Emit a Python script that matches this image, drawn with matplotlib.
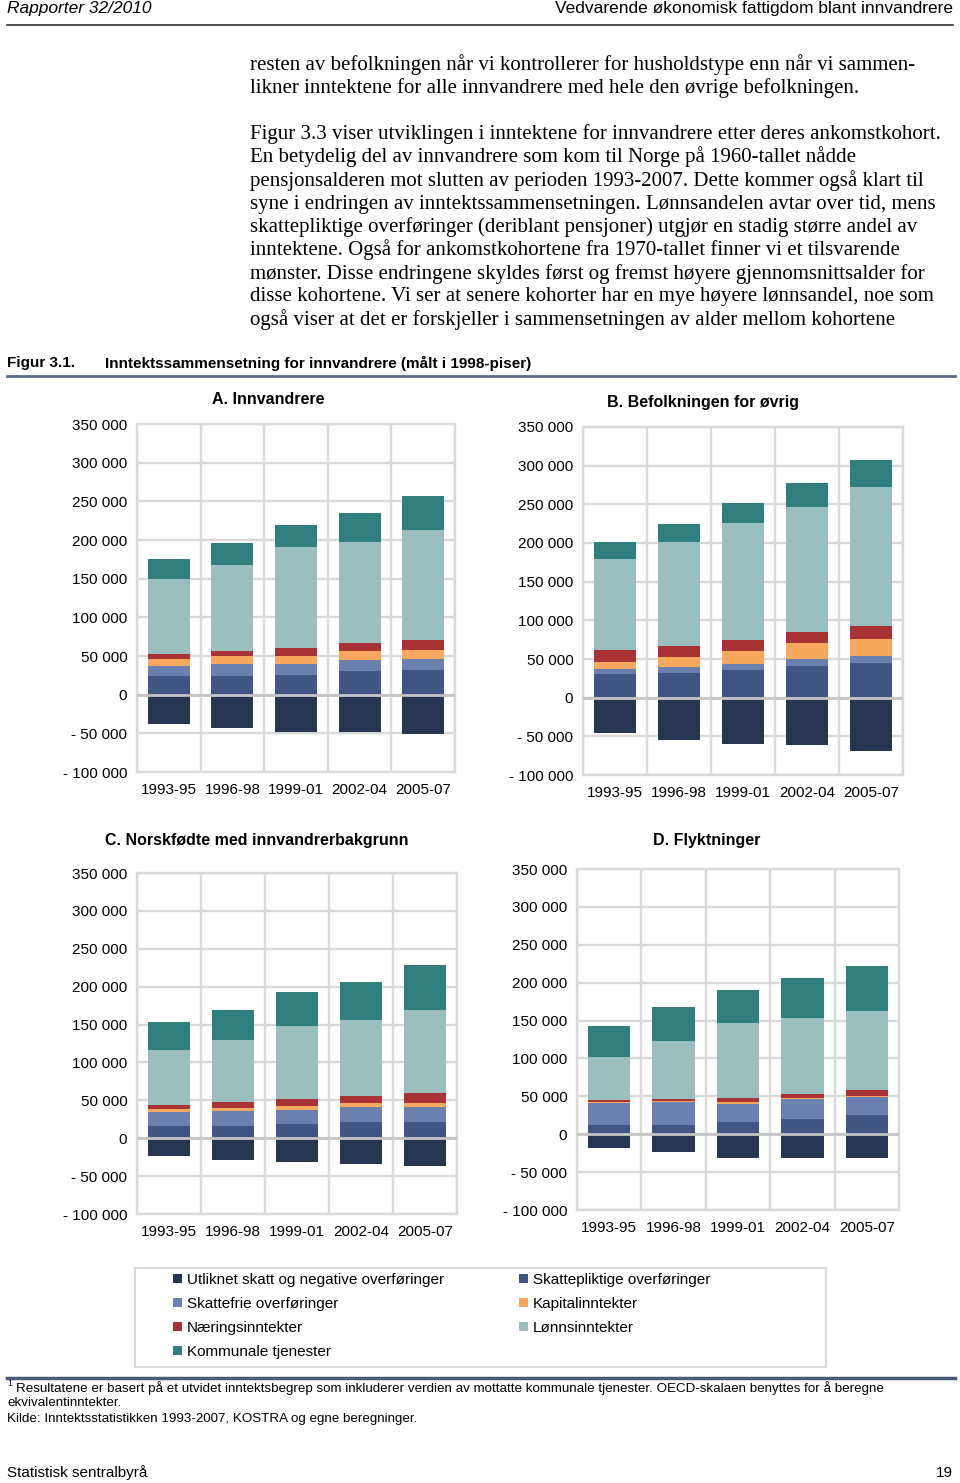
import numpy as np
import matplotlib.pyplot as plt
from matplotlib.patches import Rectangle
from matplotlib.lines import Line2D

plt.rcParams['font.family'] = ['Liberation Sans', 'DejaVu Sans']

W, H = 960, 1483

periods = ['1993-95', '1996-98', '1999-01', '2002-04', '2005-07']
components = ['Utliknet skatt og negative overføringer', 'Skattepliktige overføringer',
              'Skattefrie overføringer', 'Kapitalinntekter', 'Næringsinntekter',
              'Lønnsinntekter', 'Kommunale tjenester']
colors = ['#263552', '#3f5684', '#6a80b0', '#f6a85e', '#a93234', '#9bbfbe', '#2f7f7e']

# rows follow the order of components
innvandrere = [[-37500, -43000, -48500, -48500, -50500],
               [23500, 23500, 25000, 30500, 32500],
               [14000, 16500, 14500, 14000, 14000],
               [8000, 9500, 11000, 11500, 11500],
               [7000, 7000, 9500, 11000, 13000],
               [97500, 111000, 130500, 130500, 142000],
               [25500, 29000, 29500, 37000, 44000]]

befolkningen = [[-45500, -54500, -60000, -61500, -69000],
                [30000, 32000, 36000, 41500, 45000],
                [7000, 8000, 7500, 8500, 9000],
                [9500, 13000, 17000, 20500, 22000],
                [14500, 14000, 14500, 15000, 17000],
                [118000, 134500, 151000, 160500, 179000],
                [22500, 23500, 25500, 31000, 35000]]

norskfodte = [[-23000, -28500, -32000, -34000, -36000],
              [16500, 16500, 18500, 22000, 22000],
              [18000, 20000, 18500, 19000, 19000],
              [4500, 4000, 6000, 5500, 5500],
              [5500, 7500, 9000, 9500, 13000],
              [71500, 81000, 95500, 99500, 109500],
              [37000, 40500, 45000, 50500, 60000]]

flyktninger = [[-18000, -24000, -31500, -31500, -31500],
               [12000, 12000, 15500, 19500, 25000],
               [29500, 30000, 25000, 26500, 24000],
               [1500, 1500, 1500, 1500, 2000],
               [2500, 2500, 5500, 5500, 8000],
               [56000, 77000, 99500, 100000, 103000],
               [41000, 44500, 43000, 52500, 60000]]

yticks = [-100000, -50000, 0, 50000, 100000, 150000, 200000, 250000, 300000, 350000]
ytick_labels = ['- 100 000', '- 50 000', '0', '50 000', '100 000', '150 000',
                '200 000', '250 000', '300 000', '350 000']

body_lines = [
    'resten av befolkningen når vi kontrollerer for husholdstype enn når vi sammen-',
    'likner inntektene for alle innvandrere med hele den øvrige befolkningen.',
    'Figur 3.3 viser utviklingen i inntektene for innvandrere etter deres ankomstkohort.',
    'En betydelig del av innvandrere som kom til Norge på 1960-tallet nådde',
    'pensjonsalderen mot slutten av perioden 1993-2007. Dette kommer også klart til',
    'syne i endringen av inntektssammensetningen. Lønnsandelen avtar over tid, mens',
    'skattepliktige overføringer (deriblant pensjoner) utgjør en stadig større andel av',
    'inntektene. Også for ankomstkohortene fra 1970-tallet finner vi et tilsvarende',
    'mønster. Disse endringene skyldes først og fremst høyere gjennomsnittsalder for',
    'disse kohortene. Vi ser at senere kohorter har en mye høyere lønnsandel, noe som',
    'også viser at det er forskjeller i sammensetningen av alder mellom kohortene',
]
body_y = [65, 88, 134, 157, 181, 204, 227, 250, 274, 297, 320]


def fx(px):
    return px / W


def fy(py):
    return 1 - py / H


def box(l, t, r, b):
    return [l / W, 1 - b / H, (r - l) / W, (b - t) / H]


def draw_panel(ax, values, title, title_xy):
    x = np.arange(len(periods))
    bars = [ax.bar(x, values[0], 0.66, color=colors[0], label=components[0], zorder=2)]
    bottom = np.zeros(len(periods))
    for i in range(1, len(components)):
        bars.append(ax.bar(x, values[i], 0.66, bottom=bottom, color=colors[i],
                           label=components[i], zorder=2))
        bottom += np.array(values[i])
    ax.axhline(0, color='#c4c4c4', lw=2, zorder=3)
    ax.set_xlim(-0.5, len(periods) - 0.5)
    ax.set_ylim(-100000, 350000)
    ax.set_yticks(yticks)
    ax.set_yticklabels(ytick_labels)
    ax.set_xticks(x)
    ax.set_xticklabels(periods)
    ax.set_xticks(np.arange(-0.5, len(periods)), minor=True)
    ax.grid(axis='y', which='major', color='#d9d9d9', lw=1.7, zorder=0)
    ax.grid(axis='x', which='minor', color='#d9d9d9', lw=1.7, zorder=0)
    ax.tick_params(which='both', length=0, labelsize=11)
    ax.tick_params(axis='y', pad=7)
    ax.tick_params(axis='x', pad=8)
    for s in ax.spines.values():
        s.set_color('#d9d9d9')
        s.set_linewidth(1.7)
    ax.set_axisbelow(True)
    fig.text(fx(title_xy[0]), fy(title_xy[1]), title, ha='center', va='center',
             fontsize=11.5, fontweight='bold')
    return bars


fig = plt.figure(figsize=(W / 100, H / 100), dpi=100)

# page header
fig.text(fx(7), fy(9), 'Rapporter 32/2010', fontsize=12.5, style='italic', va='center')
fig.text(fx(953), fy(9), 'Vedvarende økonomisk fattigdom blant innvandrere', fontsize=12.5,
         va='center', ha='right')
fig.add_artist(Line2D([fx(7), fx(953)], [fy(25), fy(25)], color='#333333', lw=1.2))

for line, y in zip(body_lines, body_y):
    fig.text(fx(250), fy(y), line, fontsize=15, family='Liberation Serif', va='center')

fig.text(fx(7), fy(363), 'Figur 3.1.', fontsize=11, fontweight='bold', va='center')
fig.text(fx(105), fy(363), 'Inntektssammensetning for innvandrere (målt i 1998-piser)',
         fontsize=11, fontweight='bold', va='center')
fig.add_artist(Line2D([fx(7), fx(955)], [fy(376), fy(376)], color='#5b6b8c', lw=2))

axA = fig.add_axes(box(137, 424, 455, 772))
axB = fig.add_axes(box(583, 427, 903, 775))
axC = fig.add_axes(box(137, 873, 457, 1214))
axD = fig.add_axes(box(577, 869, 899, 1210))

bars = draw_panel(axA, innvandrere, 'A. Innvandrere', (268, 400))
draw_panel(axB, befolkningen, 'B. Befolkningen for øvrig', (703, 403))
draw_panel(axC, norskfodte, 'C. Norskfødte med innvandrerbakgrunn', (257, 840))
draw_panel(axD, flyktninger, 'D. Flyktninger', (707, 840))

# legend: frame plus two columns
fig.add_artist(Rectangle((fx(135), fy(1367)), (826 - 135) / W, (1367 - 1268) / H,
                         transform=fig.transFigure, fill=False, edgecolor='#d9d9d9', lw=1.5))
col1 = [0, 2, 4, 6]
col2 = [1, 3, 5]
for idx, x0 in [(col1, 173), (col2, 519)]:
    fig.legend([bars[i] for i in idx], [components[i] for i in idx], loc='upper left',
               bbox_to_anchor=(fx(x0), fy(1273)), frameon=False, fontsize=11,
               borderpad=0, borderaxespad=0, handlelength=0.6, handleheight=0.6,
               handletextpad=0.33, labelspacing=0.65)

# footnotes
fig.add_artist(Line2D([fx(7), fx(955)], [fy(1378), fy(1378)], color='#4a5a7a', lw=2.5))
fig.text(fx(7), fy(1384), '1', fontsize=6.5, va='center')
fig.text(fx(16), fy(1388), 'Resultatene er basert på et utvidet inntektsbegrep som inkluderer '
         'verdien av mottatte kommunale tjenester. OECD-skalaen benyttes for å beregne',
         fontsize=9.6, va='center')
fig.text(fx(7), fy(1403), 'ekvivalentinntekter.', fontsize=9.6, va='center')
fig.text(fx(7), fy(1419), 'Kilde: Inntektsstatistikken 1993-2007, KOSTRA og egne beregninger.',
         fontsize=9.6, va='center')

fig.text(fx(7), fy(1473), 'Statistisk sentralbyrå', fontsize=11, va='center')
fig.text(fx(953), fy(1473), '19', fontsize=11, va='center', ha='right')

fig.savefig('out.png', dpi=100)
